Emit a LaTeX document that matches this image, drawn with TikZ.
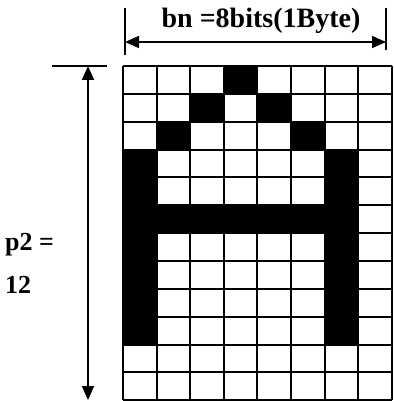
\documentclass[tikz,border=0pt]{standalone}
\usepackage{fontspec}
\setmainfont{Liberation Serif}
\usepackage{tikz}
\usetikzlibrary{arrows.meta,positioning}
\definecolor{glyphInk}{HTML}{000000}

\begin{document}
\begin{tikzpicture}[
  x=1pt, y=-1pt,
  font=\bfseries\fontsize{26}{30}\selectfont,
  cell/.style={fill=glyphInk},
  gridline/.style={draw=glyphInk, line width=2pt},
  tick/.style={draw=glyphInk, line width=1.2pt},
  dim/.style={{Triangle[length=14pt,width=12pt]}-{Triangle[length=14pt,width=12pt]}, line width=1.6pt, draw=glyphInk},
  dimlabel/.style={inner sep=0pt, text=glyphInk}
]
  \useasboundingbox (0,0) rectangle (393,401);
  \def\cw{33.6}
  \def\ch{27.85}

  % lit pixels of the glyph
  \foreach \c/\r in {3/0,2/1,4/1,1/2,5/2} {
    \fill[cell] (123+\c*\cw,66+\r*\ch) rectangle ++(\cw,\ch);
  }
  \foreach \r in {3,...,9} {
    \fill[cell] (123,66+\r*\ch) rectangle ++(\cw,\ch);
    \fill[cell] (123+6*\cw,66+\r*\ch) rectangle ++(\cw,\ch);
  }
  \fill[cell] (123,66+5*\ch) rectangle ++(7*\cw,\ch);

  % grid
  \foreach \c in {0,...,8} {
    \draw[gridline] (123+\c*\cw,66) -- (123+\c*\cw,66+12*\ch);
  }
  \foreach \r in {0,...,12} {
    \draw[gridline] (123,66+\r*\ch) -- (123+8*\cw,66+\r*\ch);
  }

  % width dimension
  \coordinate (wtopl) at (125,8);
  \coordinate (wbotl) at (125,55);
  \coordinate (wtopr) at (386,8);
  \coordinate (wbotr) at (386,50);
  \coordinate (warrl) at (125,42);
  \coordinate (warrr) at (386,42);
  \draw[tick] (wtopl) -- (wbotl);
  \draw[tick] (wtopr) -- (wbotr);
  \draw[dim] (warrl) -- (warrr);
  \node[dimlabel, anchor=base, font=\bfseries\fontsize{28}{32}\selectfont] (bnlabel) at (261,28) {bn =8bits(1Byte)};

  % height dimension
  \coordinate (htickl) at (52,66);
  \coordinate (htickr) at (107,66);
  \coordinate (harrt) at (88,66);
  \coordinate (harrb) at (88,400);
  \draw[tick] (htickl) -- (htickr);
  \draw[dim] (harrt) -- (harrb);
  \node[dimlabel, anchor=base west] (plabel) at (5,250) {p2 =};
  \node[dimlabel, anchor=base west] (rowlabel) at (5,293) {12};
\end{tikzpicture}
\end{document}
